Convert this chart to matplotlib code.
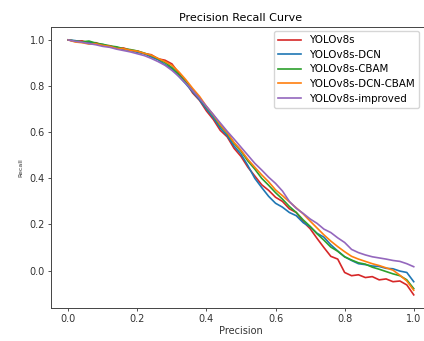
import matplotlib
matplotlib.use("Agg")
import matplotlib.pyplot as plt

# Precision grid shared by all curves
precision = [0.00, 0.02, 0.04, 0.06, 0.08, 0.10, 0.12, 0.14, 0.16, 0.18,
             0.20, 0.22, 0.24, 0.26, 0.28, 0.30, 0.32, 0.34, 0.36, 0.38,
             0.40, 0.42, 0.44, 0.46, 0.48, 0.50, 0.52, 0.54, 0.56, 0.58,
             0.60, 0.62, 0.64, 0.66, 0.68, 0.70, 0.72, 0.74, 0.76, 0.78,
             0.80, 0.82, 0.84, 0.86, 0.88, 0.90, 0.92, 0.94, 0.96, 0.98,
             1.00]

recall_v8s = [1.000, 0.994, 0.996, 0.986, 0.988, 0.976, 0.975, 0.964, 0.965, 0.955,
              0.952, 0.940, 0.936, 0.918, 0.912, 0.896, 0.856, 0.818, 0.770, 0.738,
              0.692, 0.655, 0.608, 0.580, 0.530, 0.495, 0.448, 0.410, 0.372, 0.348,
              0.318, 0.300, 0.268, 0.252, 0.212, 0.182, 0.140, 0.100, 0.062, 0.050,
              -0.008, -0.022, -0.018, -0.030, -0.026, -0.040, -0.036, -0.048, -0.045, -0.062,
              -0.105]

recall_dcn = [1.000, 0.997, 0.990, 0.992, 0.983, 0.980, 0.970, 0.968, 0.958, 0.955,
              0.946, 0.940, 0.926, 0.914, 0.893, 0.875, 0.842, 0.810, 0.775, 0.740,
              0.700, 0.662, 0.618, 0.585, 0.540, 0.505, 0.455, 0.400, 0.360, 0.322,
              0.292, 0.275, 0.252, 0.238, 0.208, 0.190, 0.162, 0.145, 0.112, 0.085,
              0.060, 0.044, 0.030, 0.026, 0.020, 0.018, 0.010, 0.008, -0.002, -0.008,
              -0.048]

recall_cbam = [1.000, 0.995, 0.992, 0.995, 0.986, 0.981, 0.974, 0.970, 0.962, 0.958,
               0.952, 0.943, 0.932, 0.918, 0.902, 0.880, 0.850, 0.818, 0.782, 0.748,
               0.708, 0.672, 0.628, 0.595, 0.552, 0.518, 0.475, 0.440, 0.400, 0.370,
               0.338, 0.310, 0.278, 0.252, 0.220, 0.192, 0.160, 0.132, 0.102, 0.084,
               0.060, 0.046, 0.034, 0.028, 0.015, 0.006, -0.004, -0.014, -0.022, -0.040,
               -0.078]

recall_dcn_cbam = [1.000, 0.991, 0.988, 0.982, 0.983, 0.976, 0.972, 0.963, 0.962, 0.955,
                   0.951, 0.942, 0.934, 0.920, 0.906, 0.890, 0.862, 0.828, 0.790, 0.755,
                   0.712, 0.675, 0.632, 0.598, 0.555, 0.522, 0.482, 0.448, 0.415, 0.385,
                   0.350, 0.325, 0.298, 0.272, 0.246, 0.215, 0.185, 0.155, 0.128, 0.104,
                   0.082, 0.062, 0.050, 0.040, 0.030, 0.022, 0.012, 0.002, -0.020, -0.045,
                   -0.085]

recall_improved = [1.000, 0.994, 0.990, 0.984, 0.979, 0.972, 0.968, 0.960, 0.954, 0.948,
                   0.940, 0.932, 0.920, 0.906, 0.890, 0.868, 0.842, 0.812, 0.780, 0.746,
                   0.712, 0.676, 0.640, 0.604, 0.570, 0.535, 0.500, 0.465, 0.436, 0.405,
                   0.378, 0.345, 0.300, 0.270, 0.248, 0.224, 0.205, 0.180, 0.165, 0.142,
                   0.122, 0.092, 0.078, 0.068, 0.060, 0.055, 0.050, 0.044, 0.040, 0.030,
                   0.017]

labels = ['YOLOv8s', 'YOLOv8s-DCN', 'YOLOv8s-CBAM', 'YOLOv8s-DCN-CBAM', 'YOLOv8s-improved']
colors = ['tab:red', 'tab:blue', 'tab:green', 'tab:orange', 'tab:purple']
curves = [recall_v8s, recall_dcn, recall_cbam, recall_dcn_cbam, recall_improved]

fig = plt.figure(figsize=(4.24, 3.41), dpi=100)
# axes run past the right edge, like the cropped original
ax = fig.add_axes([51 / 424, 1 - 308 / 341, 380 / 424, 281 / 341])

for y, lab, c in zip(curves, labels, colors):
    ax.plot(precision, y, color=c, linewidth=1.2, label=lab)

ax.set_xlim(-0.05, 1.05)
ax.set_ylim(-0.162, 1.056)
ax.set_xticks([0.0, 0.2, 0.4, 0.6, 0.8, 1.0])
ax.set_yticks([0.0, 0.2, 0.4, 0.6, 0.8, 1.0])
ax.tick_params(labelsize=7, length=2.5, width=0.6, pad=2, colors='#333333')
for s in ax.spines.values():
    s.set_linewidth(0.7)
    s.set_color('#444444')
ax.spines['right'].set_visible(False)

ax.set_title('Precision Recall Curve', fontsize=8, pad=4)
ax.set_xlabel('Precision', fontsize=7, labelpad=1, color='#333333')
ax.set_ylabel('Recall', fontsize=4.5, labelpad=4, color='#333333')

ax.legend(fontsize=7.4, loc='upper right', bbox_to_anchor=(419 / 424, 1 - 31 / 341),
          bbox_transform=fig.transFigure, handlelength=2.2, borderaxespad=0,
          labelspacing=0.45, frameon=True, fancybox=True, edgecolor='#cccccc')

plt.savefig('out.png', dpi=100)
plt.close()
